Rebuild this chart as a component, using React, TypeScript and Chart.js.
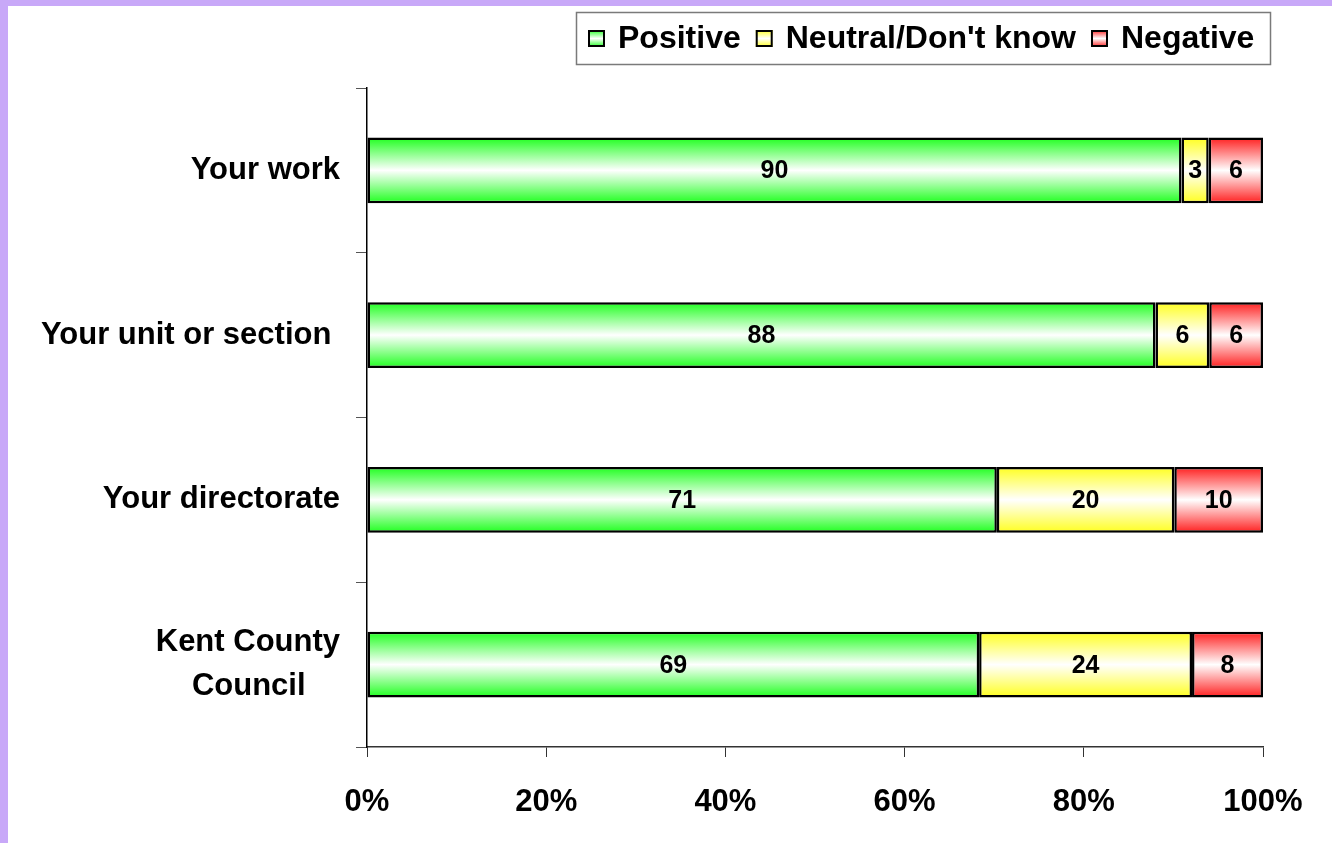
import React, { useEffect, useRef } from "react";
import { Chart, registerables } from "chart.js";

Chart.register(...registerables);

const categories: (string | string[])[] = [
  "Your work",
  "Your unit or section ",
  "Your directorate",
  ["Kent County", "Council    "],
];
const seriesNames = ["Positive", "Neutral/Don't know", "Negative"];
const positive = [90, 88, 71, 69];
const neutral = [3, 6, 20, 24];
const negative = [6, 6, 10, 8];
const xTicks = [0, 20, 40, 60, 80, 100];
const edgeColors = ["#1EFF1E", "#FFFF1E", "#FF1E1E"];

const FONT = "'Liberation Sans', Arial, sans-serif";
const W = 1324;
const H = 837;
const BAR_FRACTION = 0.4;

function gradientFor(ctx2d: CanvasRenderingContext2D, top: number, bottom: number, color: string) {
  const g = ctx2d.createLinearGradient(0, top, 0, bottom);
  g.addColorStop(0, color);
  g.addColorStop(0.5, "#FFFFFF");
  g.addColorStop(1, color);
  return g;
}

const dataLabelPlugin = {
  id: "dataLabels",
  afterDatasetsDraw(chart: any) {
    const ctx = chart.ctx;
    ctx.save();
    ctx.font = `bold 25px ${FONT}`;
    ctx.fillStyle = "#000";
    ctx.textAlign = "center";
    ctx.textBaseline = "middle";
    chart.data.datasets.forEach((ds: any, di: number) => {
      const meta = chart.getDatasetMeta(di);
      meta.data.forEach((el: any, i: number) => {
        const p = el.getProps(["x", "y", "base"], true);
        ctx.fillText(String(ds.rawValues[i]), (p.x + p.base) / 2, p.y + 1);
      });
    });
    ctx.restore();
  },
};

const legendPlugin = {
  id: "customLegend",
  afterDraw(chart: any) {
    const ctx = chart.ctx;
    ctx.save();
    ctx.strokeStyle = "#7a7a7a";
    ctx.lineWidth = 1.5;
    ctx.strokeRect(568.5, 6.5, 694, 52);
    ctx.font = `bold 32px ${FONT}`;
    ctx.textBaseline = "middle";
    ctx.textAlign = "left";
    let x = 580;
    const sq = 17;
    const sqTop = 24;
    chart.data.datasets.forEach((ds: any, di: number) => {
      ctx.fillStyle = gradientFor(ctx, sqTop, sqTop + sq, edgeColors[di]);
      ctx.fillRect(x, sqTop, sq, sq);
      ctx.strokeStyle = "#000";
      ctx.lineWidth = 2;
      ctx.strokeRect(x + 1, sqTop + 1, sq - 2, sq - 2);
      x += sq + 13;
      ctx.fillStyle = "#000";
      ctx.fillText(ds.label, x, 33);
      x += ctx.measureText(ds.label).width + 15;
    });
    ctx.restore();
  },
};

export default function App() {
  const ref = useRef<HTMLCanvasElement | null>(null);

  useEffect(() => {
    if (!ref.current) return;
    const series = [positive, neutral, negative];
    const totals = positive.map((p, i) => p + neutral[i] + negative[i]);
    const datasets = series.map((vals, si) => ({
      label: seriesNames[si],
      data: vals.map((v, i) => (v / totals[i]) * 100),
      rawValues: vals,
      backgroundColor: (c: any) => {
        const chart = c.chart;
        const y = chart.scales && chart.scales.y;
        if (!y || c.dataIndex == null || !chart.chartArea) return edgeColors[si];
        const center = y.getPixelForValue(c.dataIndex);
        const half = ((y.bottom - y.top) / categories.length) * BAR_FRACTION / 2;
        return gradientFor(chart.ctx, center - half, center + half, edgeColors[si]);
      },
      borderColor: "#000",
      borderWidth: 2.5,
      borderSkipped: false,
      categoryPercentage: 0.8,
      barPercentage: BAR_FRACTION / 0.8,
    }));

    const chart = new Chart(ref.current, {
      type: "bar",
      data: { labels: categories, datasets: datasets as any },
      options: {
        indexAxis: "y",
        animation: false,
        responsive: false,
        devicePixelRatio: 1,
        layout: { padding: { top: 82, right: 69, left: 0, bottom: 0 } },
        plugins: {
          legend: { display: false },
          tooltip: { enabled: false },
        },
        scales: {
          x: {
            stacked: true,
            min: 0,
            max: 100,
            afterBuildTicks: (s: any) => {
              s.ticks = xTicks.map((v) => ({ value: v }));
            },
            afterFit: (s: any) => {
              s.height = 96;
            },
            ticks: {
              callback: (v: any) => `${v}%`,
              color: "#000",
              font: { family: FONT, size: 31, weight: "bold" },
              padding: 27,
              maxRotation: 0,
              autoSkip: false,
            },
            grid: {
              drawOnChartArea: false,
              drawTicks: true,
              tickLength: 10,
              color: "#333",
            },
            border: { display: true, color: "#333", width: 1.5 },
          },
          y: {
            stacked: true,
            afterFit: (s: any) => {
              s.width = 359;
            },
            ticks: {
              color: "#000",
              font: { family: FONT, size: 31, weight: "bold", lineHeight: 1.4 },
              padding: 16,
              autoSkip: false,
            },
            grid: {
              offset: true,
              drawOnChartArea: false,
              drawTicks: true,
              tickLength: 11,
              color: "#555",
            },
            border: { display: true, color: "#000", width: 1.5 },
          },
        },
      },
      plugins: [dataLabelPlugin, legendPlugin],
    });
    return () => chart.destroy();
  }, []);

  return (
    <div style={{ position: "fixed", inset: 0, background: "#C8A8F8" }}>
      <div style={{ position: "absolute", left: 8, top: 6, width: W, height: H, background: "#fff" }}>
        <canvas ref={ref} width={W} height={H} style={{ display: "block", width: W, height: H }} />
      </div>
    </div>
  );
}
